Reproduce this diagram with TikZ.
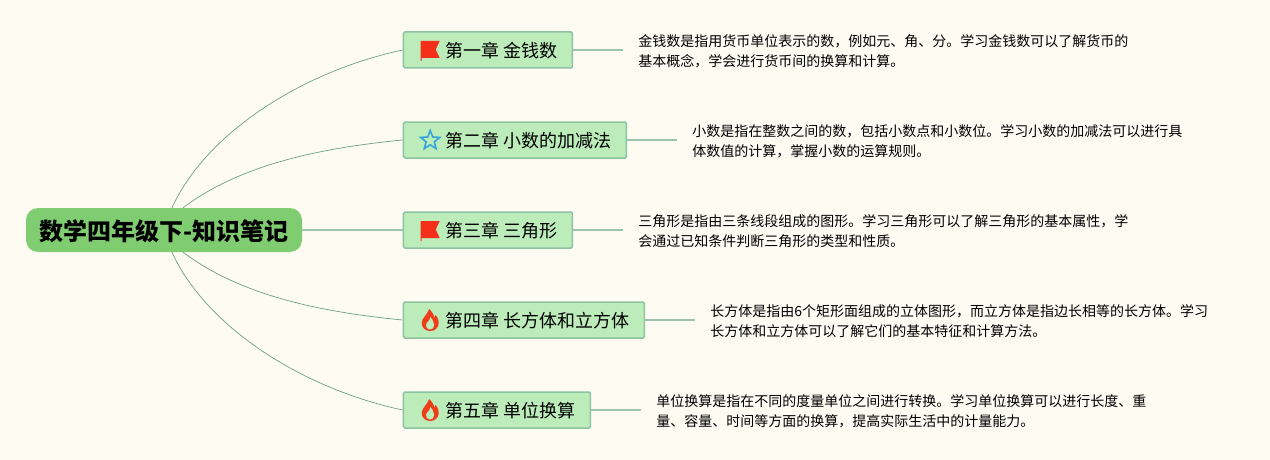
\documentclass[tikz,border=0pt]{standalone}
\usepackage{fontspec}
\setmainfont{Noto Sans CJK SC}
\usepackage{xcolor}
\usetikzlibrary{positioning,shapes.geometric}
\definecolor{paper}{HTML}{FEFBF3}
\definecolor{rootgreen}{HTML}{80CC70}
\definecolor{boxgreen}{HTML}{BBECB9}
\definecolor{boxline}{HTML}{8CC3A0}
\definecolor{stubline}{HTML}{9CC4AE}
\definecolor{limbline}{HTML}{6BA088}
\definecolor{flagred}{HTML}{F5301A}
\definecolor{fireorange}{HTML}{EE3D18}
\definecolor{starblue}{HTML}{35A5DC}
\tikzset{
  rootbox/.style={fill=rootgreen,rounded corners=12pt,minimum width=276pt,minimum height=44pt,inner sep=0pt,text height=23pt,text depth=2.8pt,font=\fontsize{24}{24}\selectfont\bfseries},
  chapter/.style={draw=boxline,line width=1.5pt,fill=boxgreen,rounded corners=1.5pt,minimum height=36pt,inner xsep=15pt,inner ysep=0pt,text height=18pt,text depth=2.4pt,font=\fontsize{18}{18}\selectfont},
  note/.style={align=left,inner xsep=15pt,inner ysep=0pt,yshift=-1.2pt,font=\fontsize{14}{20}\selectfont},
  limb/.style={limbline,line width=.7pt},
  stub/.style={stubline,line width=1.5pt},
  flagicon/.pic={
    \fill[flagred] (-9.5pt,9.5pt) -- (9.5pt,9.5pt) -- (5.5pt,1pt) -- (9.5pt,-7.5pt) -- (-8.5pt,-7.5pt) -- (-8.5pt,-10.5pt) -- (-9.5pt,-10.5pt) -- cycle;
  },
  fireicon/.pic={
    \fill[fireorange] (0,-11pt) .. controls (-5pt,-11pt) and (-8.5pt,-7.5pt) .. (-8.5pt,-3pt)
      .. controls (-8.5pt,2pt) and (-3pt,5pt) .. (-1pt,11pt)
      .. controls (2pt,8pt) and (4pt,5pt) .. (4pt,2pt)
      .. controls (5pt,3pt) and (5.5pt,4pt) .. (5.5pt,5pt)
      .. controls (8pt,2pt) and (8.5pt,-1pt) .. (8.5pt,-3pt)
      .. controls (8.5pt,-7.5pt) and (5pt,-11pt) .. (0,-11pt) -- cycle;
    \fill[boxgreen] (0,-9.5pt) .. controls (-4pt,-9.5pt) and (-4.8pt,-5pt) .. (-3.5pt,-3pt)
      .. controls (-2pt,-1pt) and (0,0) .. (.5pt,3pt)
      .. controls (2pt,0) and (4pt,-2pt) .. (4pt,-5pt)
      .. controls (4pt,-8pt) and (2pt,-9.5pt) .. (0,-9.5pt) -- cycle;
  }
}
\begin{document}
\begin{tikzpicture}
\fill[paper] (0pt,0pt) rectangle (1270pt,-460pt);
\useasboundingbox (0pt,0pt) rectangle (1270pt,-460pt);

\node[rootbox] (root) at (164pt,-230pt) {数学四年级下-知识笔记};

\node[chapter, right=100.5pt of root] (chIII) {\hspace*{27pt}第三章 三角形};
\node[chapter, above=52.5pt of chIII.north west, anchor=south west] (chII) {\hspace*{27pt}第二章 小数的加减法};
\node[chapter, above=52.5pt of chII.north west, anchor=south west] (chI) {\hspace*{27pt}第一章 金钱数};
\node[chapter, below=52.5pt of chIII.south west, anchor=north west] (chIV) {\hspace*{27pt}第四章 长方体和立方体};
\node[chapter, below=52.5pt of chIV.south west, anchor=north west] (chV) {\hspace*{27pt}第五章 单位换算};

\node[note, right=50pt of chI] (noteI) {金钱数是指用货币单位表示的数，例如元、角、分。学习金钱数可以了解货币的\\基本概念，学会进行货币间的换算和计算。};
\node[note, right=50pt of chII] (noteII) {小数是指在整数之间的数，包括小数点和小数位。学习小数的加减法可以进行具\\体数值的计算，掌握小数的运算规则。};
\node[note, right=50pt of chIII] (noteIII) {三角形是指由三条线段组成的图形。学习三角形可以了解三角形的基本属性，学\\会通过已知条件判断三角形的类型和性质。};
\node[note, right=50pt of chIV] (noteIV) {长方体是指由6个矩形面组成的立体图形，而立方体是指边长相等的长方体。学习\\长方体和立方体可以了解它们的基本特征和计算方法。};
\node[note, right=50pt of chV] (noteV) {单位换算是指在不同的度量单位之间进行转换。学习单位换算可以进行长度、重\\量、容量、时间等方面的换算，提高实际生活中的计量能力。};

\pic at ([xshift=27.5pt,yshift=-.5pt]chI.west) {flagicon};
\pic at ([xshift=27.5pt,yshift=-.5pt]chIII.west) {flagicon};
\node[star, star points=5, star point ratio=2.3, draw=starblue, line width=1.6pt, minimum size=20pt, inner sep=0pt] (starII) at ([xshift=27.5pt,yshift=-.5pt]chII.west) {};
\pic at ([xshift=27.5pt]chIV.west) {fireicon};
\pic at ([xshift=27.5pt]chV.west) {fireicon};

\draw[limb] ([xshift=8pt]root.north) .. controls +(33pt,73pt) and ([xshift=-103pt,yshift=-22pt]chI.west) .. (chI.west);
\draw[limb] ([xshift=19pt]root.north) .. controls +(57pt,43pt) and ([xshift=-83pt,yshift=-8pt]chII.west) .. (chII.west);
\draw[stub] (root) -- (chIII);
\draw[limb] ([xshift=19pt]root.south) .. controls +(57pt,-43pt) and ([xshift=-83pt,yshift=8pt]chIV.west) .. (chIV.west);
\draw[limb] ([xshift=8pt]root.south) .. controls +(33pt,-73pt) and ([xshift=-103pt,yshift=22pt]chV.west) .. (chV.west);

\draw[stub] (chI.east) -- (chI.east -| noteI.west);
\draw[stub] (chII.east) -- (chII.east -| noteII.west);
\draw[stub] (chIII.east) -- (chIII.east -| noteIII.west);
\draw[stub] (chIV.east) -- (chIV.east -| noteIV.west);
\draw[stub] (chV.east) -- (chV.east -| noteV.west);
\end{tikzpicture}
\end{document}
